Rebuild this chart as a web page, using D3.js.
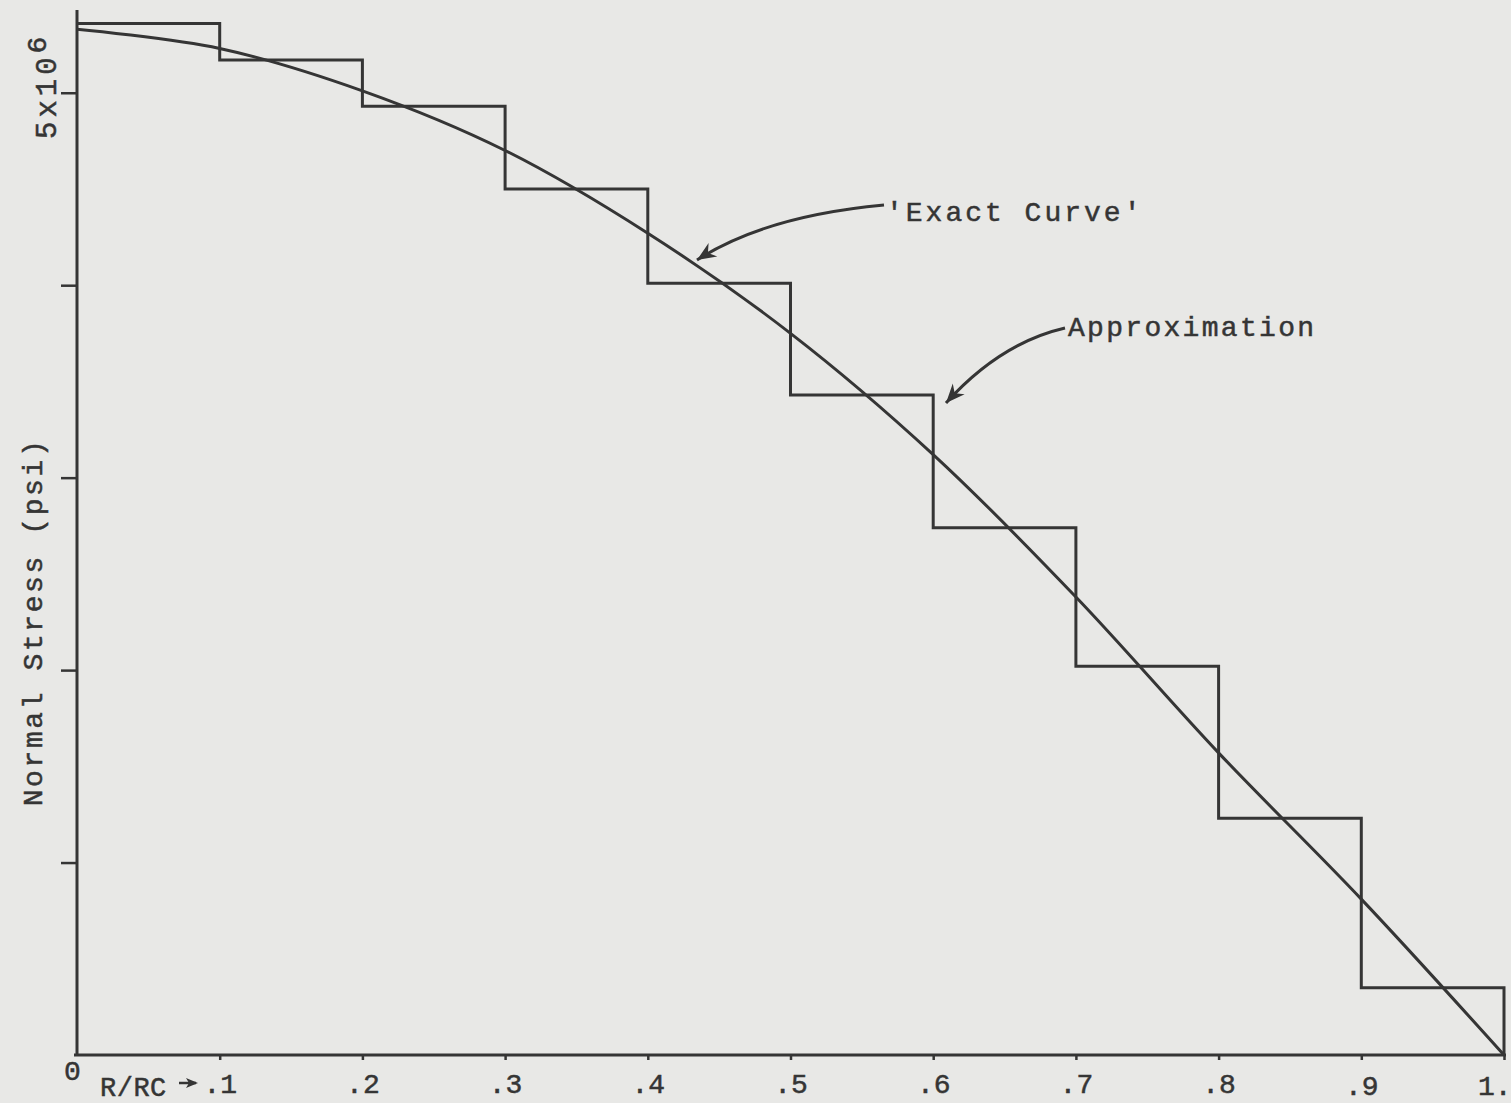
<!DOCTYPE html>
<html><head><meta charset="utf-8">
<script src="https://cdn.jsdelivr.net/npm/d3@7"></script>
<style>
html,body{margin:0;padding:0;background:#e8e8e6;}
svg{display:block;}
text{font-family:"Liberation Mono","DejaVu Sans Mono",monospace;fill:#353535;stroke:#353535;stroke-width:0.5px;}
</style></head>
<body>
<script>
// ---- data ----
const rPositions = [0, 0.1, 0.2, 0.3, 0.4, 0.5, 0.6, 0.7, 0.8, 0.9, 1.0];
const exactCurve = [5.33e6, 5.23e6, 5.01e6, 4.70e6, 4.27e6, 3.75e6, 3.12e6, 2.38e6, 1.57e6, 0.81e6, 0];
const stepStarts = [0, 0.1, 0.2, 0.3, 0.4, 0.5, 0.6, 0.7, 0.8, 0.9];
const approximation = [5.36e6, 5.17e6, 4.93e6, 4.50e6, 4.01e6, 3.43e6, 2.74e6, 2.02e6, 1.23e6, 0.35e6];
const xTicks = [0.1, 0.2, 0.3, 0.4, 0.5, 0.6, 0.7, 0.8, 0.9, 1.0];
const xTickLabels = [".1", ".2", ".3", ".4", ".5", ".6", ".7", ".8", ".9", "1."];
const yTicks = [1e6, 2e6, 3e6, 4e6, 5e6];

const W = 1511, H = 1103;
const ink = "#353535";
const svg = d3.select("body").append("svg").attr("width", W).attr("height", H);
svg.append("rect").attr("width", W).attr("height", H).attr("fill", "#e8e8e6");

const x = d3.scaleLinear().domain([0, 1]).range([77, 1504]);
const y = d3.scaleLinear().domain([0, 5.43e6]).range([1055, 10]);

// arrowhead marker (tip at origin, body behind)
const defs = svg.append("defs");
defs.append("marker").attr("id", "arr").attr("viewBox", "-20 -9 22 18")
  .attr("refX", 0).attr("refY", 0).attr("markerWidth", 22).attr("markerHeight", 18)
  .attr("markerUnits", "userSpaceOnUse").attr("orient", "auto")
  .append("path").attr("d", "M0,0 L-19,-8 L-13,0 L-19,8 Z").attr("fill", ink);

// axes
const gx = svg.append("g").attr("transform", `translate(0,${y(0)})`)
  .call(d3.axisBottom(x).tickValues(xTicks).tickSize(5).tickSizeOuter(0)
    .tickFormat((d, i) => xTickLabels[i]).tickPadding(6));
gx.select(".domain").attr("stroke", ink).attr("stroke-width", 3)
  .attr("d", `M${x(0) - 3},0H${x(1) + 2}`);
gx.selectAll(".tick line").attr("stroke", ink).attr("stroke-width", 2.5);
gx.selectAll(".tick text").attr("font-size", 28).attr("fill", ink)
  .attr("font-family", "Liberation Mono").attr("dy", "0.95em");
gx.selectAll(".tick text").filter((d, i) => i === xTicks.length - 1)
  .attr("text-anchor", "end").attr("x", 7).attr("y", 13);
gx.selectAll(".tick text").filter((d, i) => i === xTicks.length - 2).attr("y", 13);

const gy = svg.append("g").attr("transform", `translate(${x(0)},0)`)
  .call(d3.axisLeft(y).tickValues(yTicks).tickSize(16).tickSizeOuter(0).tickFormat(""));
gy.select(".domain").attr("stroke", ink).attr("stroke-width", 3)
  .attr("d", `M0,${y(0) + 1}V${y(5.43e6)}`);
gy.selectAll(".tick line").attr("stroke", ink).attr("stroke-width", 2.5);

// step approximation
const stepData = stepStarts.map((r, i) => [r, approximation[i]]);
stepData.push([1.0, approximation[approximation.length - 1]]);
stepData.push([1.0, 0]);
svg.append("path").datum(stepData)
  .attr("d", d3.line().x(d => x(d[0])).y(d => y(d[1])).curve(d3.curveStepAfter))
  .attr("fill", "none").attr("stroke", ink).attr("stroke-width", 3).attr("stroke-linejoin", "miter");

// exact curve
svg.append("path").datum(rPositions.map((r, i) => [r, exactCurve[i]]))
  .attr("d", d3.line().x(d => x(d[0])).y(d => y(d[1])).curve(d3.curveCatmullRom.alpha(0.5)))
  .attr("fill", "none").attr("stroke", ink).attr("stroke-width", 3);

// annotations
svg.append("path").attr("d", "M884,205 Q765,216 697,260")
  .attr("fill", "none").attr("stroke", ink).attr("stroke-width", 3)
  .attr("marker-end", "url(#arr)");
svg.append("text").attr("x", 886).attr("y", 221).attr("font-size", 28)
  .attr("letter-spacing", 3).text("'Exact Curve'");

svg.append("path").attr("d", "M1065,328 Q1000,343 946,403")
  .attr("fill", "none").attr("stroke", ink).attr("stroke-width", 3)
  .attr("marker-end", "url(#arr)");
svg.append("text").attr("x", 1068).attr("y", 336).attr("font-size", 28)
  .attr("letter-spacing", 2.3).text("Approximation");

// y axis labels
const yl = svg.append("text").attr("transform", "translate(56,139) rotate(-90)")
  .attr("font-size", 29).attr("letter-spacing", 4);
yl.append("tspan").text("5x10");
yl.append("tspan").attr("dy", -10).attr("font-size", 28).text("6");

svg.append("text").attr("transform", "translate(42,622) rotate(-90)")
  .attr("text-anchor", "middle").attr("font-size", 28).attr("letter-spacing", 2.6)
  .text("Normal Stress (psi)");

// x axis labels
svg.append("text").attr("x", 64).attr("y", 1080).attr("font-size", 28).text("0");
svg.append("text").attr("x", 100).attr("y", 1096).attr("font-size", 27).attr("letter-spacing", 0.5).text("R/RC");
svg.append("path").attr("d", "M179,1083 H196")
  .attr("fill", "none").attr("stroke", ink).attr("stroke-width", 2.5)
  .attr("marker-end", "url(#arr2)");
defs.append("marker").attr("id", "arr2").attr("viewBox", "-12 -6 14 12")
  .attr("refX", 0).attr("refY", 0).attr("markerWidth", 14).attr("markerHeight", 12)
  .attr("markerUnits", "userSpaceOnUse").attr("orient", "auto")
  .append("path").attr("d", "M2,0 L-10,-5 L-7,0 L-10,5 Z").attr("fill", ink);
</script>
</body></html>
